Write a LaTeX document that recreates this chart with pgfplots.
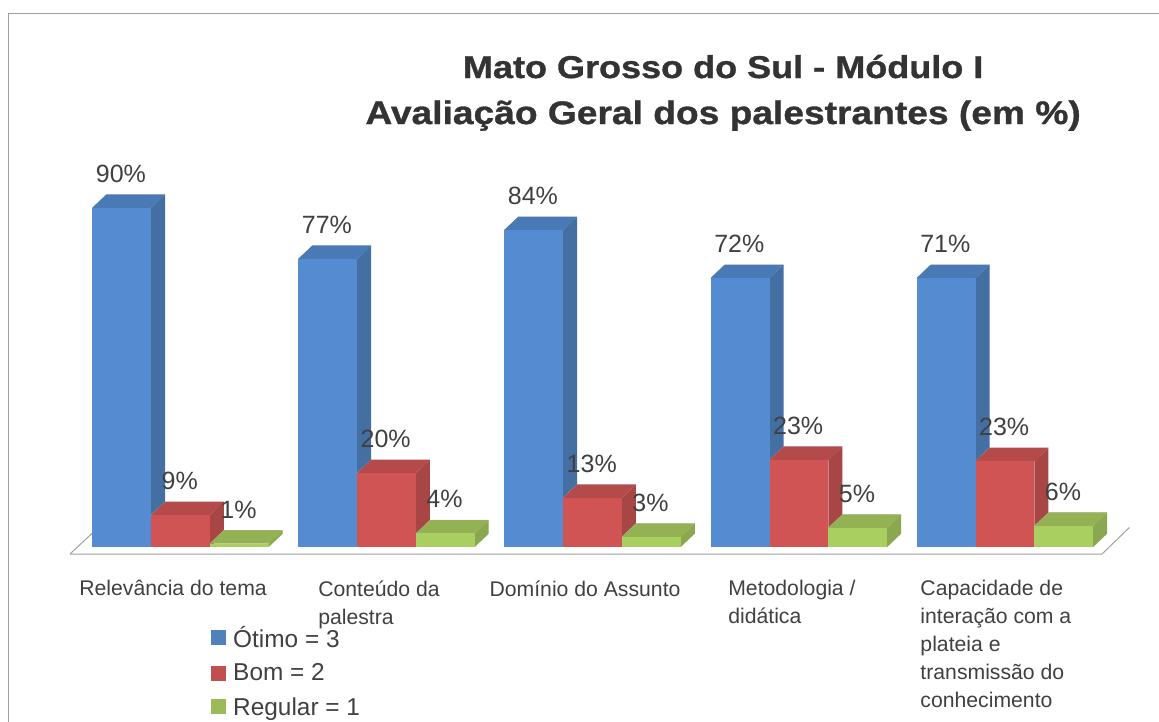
\documentclass[border=0pt]{standalone}
\usepackage{fontspec}
\setmainfont{Liberation Sans}
\newfontfamily\titlefont[FakeStretch=1.14,FakeBold=1]{Liberation Sans Bold}
\usepackage{pgfplots}
\pgfplotsset{compat=1.18}

\definecolor{txt}{HTML}{404040}
\definecolor{frameline}{HTML}{A0A0A0}
\definecolor{edge}{HTML}{B0B0B0}
\definecolor{bluefront}{HTML}{558BD0}
\definecolor{bluetop}{HTML}{4A7AB5}
\definecolor{blueside}{HTML}{446FA3}
\definecolor{redfront}{HTML}{D05454}
\definecolor{redtop}{HTML}{B54A4A}
\definecolor{redside}{HTML}{A84545}
\definecolor{greenfront}{HTML}{A9CF60}
\definecolor{greentop}{HTML}{94B254}
\definecolor{greenside}{HTML}{8AA84F}
\definecolor{bluekey}{HTML}{4F81BD}
\definecolor{redkey}{HTML}{C0504D}
\definecolor{greenkey}{HTML}{9BBB59}

% bar: x, height, label, colour prefix
\newcommand{\depthbar}[4]{%
  \pgfmathsetmacro\xl{#1-0.1427}%
  \pgfmathsetmacro\xr{#1+0.1427}%
  \pgfmathsetmacro\xlb{\xl+0.068}%
  \pgfmathsetmacro\xrb{\xr+0.068}%
  \pgfmathsetmacro\yb{#2+3.55}%
  \addplot[forget plot,fill=#4top,draw=edge,line width=0.4pt] coordinates {(\xl,#2) (\xlb,\yb) (\xrb,\yb) (\xrb,\yb)};
  \addplot[forget plot,fill=#4top,draw=none] coordinates {(\xl,#2) (\xlb,\yb) (\xrb,\yb) (\xr,#2)};
  \addplot[forget plot,fill=#4side,draw=none] coordinates {(\xr,0) (\xrb,3.55) (\xrb,\yb) (\xr,#2)};
  \addplot[forget plot,ybar,bar width=58.9pt,bar shift=0pt,fill=#4front,draw=none,
    point meta=explicit symbolic,nodes near coords={\pgfplotspointmeta\%},
    every node near coord/.append style={anchor=base,inner sep=0pt,yshift=25.5pt,xshift=-0.8pt,
      font=\fontsize{25}{25}\selectfont,text=txt}]
    coordinates {(#1,#2) [#3]};
}

\begin{document}
\begin{tikzpicture}
\path[use as bounding box] (0,0) rectangle (1159pt,722pt);
\draw[frameline,line width=1.2pt] (8.5pt,0) -- (8.5pt,708.5pt) -- (1159pt,708.5pt);
\begin{axis}[
  at={(70pt,175pt)}, anchor=south west,
  scale only axis, width=1040pt, height=356.25pt,
  xmin=-0.5364, xmax=4.512, ymin=0, ymax=95,
  clip=false,
  axis line style={draw=none},
  major tick length=0pt,
  ytick=\empty,
  xtick={-0.036,0.9636,1.9636,2.968,3.958},
  xticklabels={
    {Relevância do tema},
    {Conteúdo da\\palestra},
    {Domínio do Assunto},
    {Metodologia /\\didática},
    {Capacidade de\\interação com a\\plateia e\\transmissão do\\conhecimento}},
  xticklabel style={align=left,anchor=north,yshift=-30pt,text=txt,
    font=\fontsize{21.2}{28}\selectfont},
  title={{\fontsize{31.6}{46}\selectfont Mato Grosso do Sul - Módulo I}\\{\fontsize{32.6}{46}\selectfont Avaliação Geral dos palestrantes (em \%)}},
  title style={at={(0.628,1.258)},anchor=center,align=center,text=black!80,
    font=\titlefont\fontsize{32}{46}\selectfont},
  legend style={at={(0.1356,-0.216)},anchor=north west,draw=none,fill=none,
    font=\fontsize{24.4}{24.4}\selectfont,text=txt,row sep=11pt,column sep=5pt,
    legend cell align=left,inner sep=0pt},
  legend image code/.code={\fill[#1] (0pt,-7.5pt) rectangle (15pt,7.5pt);},
]
% floor
\addplot[forget plot,frameline,line width=1pt] coordinates {(-0.5364,-1.87) (-0.43,3.6)};
\addplot[forget plot,frameline,line width=1pt] coordinates {(-0.5364,-1.87) (4.473,-1.87) (4.606,5.2)};

\depthbar{-0.2855}{90.4}{90}{blue}
\depthbar{0.7145}{76.8}{77}{blue}
\depthbar{1.7145}{84.5}{84}{blue}
\depthbar{2.7165}{71.7}{72}{blue}
\depthbar{3.7165}{71.7}{71}{blue}

\depthbar{0}{8.5}{9}{red}
\depthbar{1}{19.7}{20}{red}
\depthbar{2}{13.1}{13}{red}
\depthbar{3.002}{23.2}{23}{red}
\depthbar{4.002}{22.9}{23}{red}

\depthbar{0.2855}{0.9}{1}{green}
\depthbar{1.2855}{3.6}{4}{green}
\depthbar{2.2855}{2.7}{3}{green}
\depthbar{3.2875}{5.1}{5}{green}
\depthbar{4.2875}{5.6}{6}{green}

\addlegendimage{fill=bluekey,draw=none}
\addlegendentry{Ótimo = 3}
\addlegendimage{fill=redkey,draw=none}
\addlegendentry{Bom = 2}
\addlegendimage{fill=greenkey,draw=none}
\addlegendentry{Regular = 1}
\end{axis}
\end{tikzpicture}
\end{document}
